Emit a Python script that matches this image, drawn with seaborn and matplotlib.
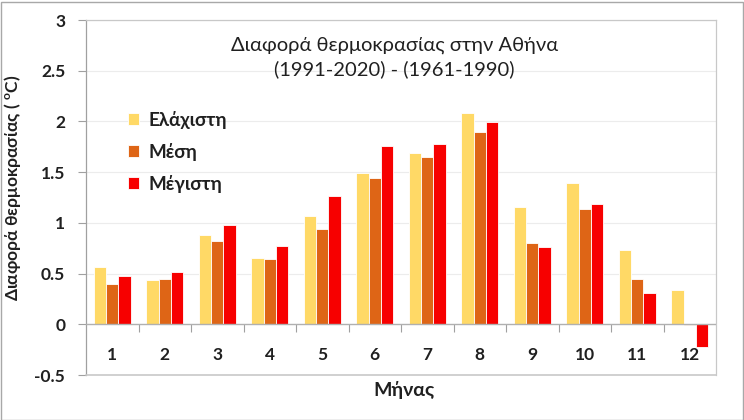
import matplotlib
matplotlib.use("Agg")
import matplotlib.pyplot as plt
import seaborn as sns
import pandas as pd
from matplotlib.patches import Rectangle

months = [str(m) for m in range(1, 13)]
series_names = ["Ελάχιστη", "Μέση", "Μέγιστη"]
t_min = [0.56, 0.44, 0.88, 0.65, 1.07, 1.49, 1.69, 2.08, 1.16, 1.39, 0.73, 0.34]
t_mean = [0.40, 0.45, 0.82, 0.64, 0.94, 1.44, 1.65, 1.90, 0.80, 1.14, 0.45, -0.01]
t_max = [0.48, 0.52, 0.98, 0.77, 1.26, 1.76, 1.78, 1.99, 0.76, 1.19, 0.31, -0.22]
y_ticks = [-0.5, 0, 0.5, 1, 1.5, 2, 2.5, 3]
y_tick_labels = ["-0.5", "0", "0.5", "1", "1.5", "2", "2.5", "3"]
colors = ["#FFD966", "#DE6516", "#F70000"]

df = pd.DataFrame({
    "month": months * 3,
    "series": [s for s in series_names for _ in months],
    "value": t_min + t_mean + t_max,
})

sns.set_theme(style="white")
plt.rcParams["font.family"] = ["Lato", "Open Sans", "DejaVu Sans"]
plt.rcParams["mathtext.fontset"] = "custom"
plt.rcParams["mathtext.rm"] = "Lato"

fig = plt.figure(figsize=(7.44, 4.2), dpi=100)
ax = fig.add_axes([86/744, 1 - 375/420, (716-86)/744, (375-20)/420])

sns.barplot(data=df, x="month", y="value", hue="series", order=months,
            hue_order=series_names, palette=colors, width=0.7,
            edgecolor="white", linewidth=0.6, ax=ax, saturation=1)

ax.set_ylim(-0.5, 3)
ax.set_xlim(-0.5, 11.5)
ax.set_yticks(y_ticks)
ax.set_yticklabels(y_tick_labels, fontsize=12.5, fontweight="bold", color="#202020")
ax.tick_params(axis="y", length=6, width=0.8, color="#a0a0a0", pad=9, left=True)

# gridlines
for yv in y_ticks[1:]:
    if yv != 0:
        ax.axhline(yv, color="#ececec", lw=0.8, zorder=0)
ax.axhline(0, color="#b0b0b0", lw=1.0, zorder=3)

# x ticks: boundaries as marks, labels at centers
ax.set_xticks([i + 0.5 for i in range(11)])
ax.set_xticklabels([])
ax.tick_params(axis="x", which="major", length=6, width=0.8, color="#a0a0a0",
               direction="out", bottom=True)
ax.spines["bottom"].set_position(("data", 0))
ax.spines["bottom"].set_visible(False)
ax.set_xticks(range(12), minor=True)
ax.set_xticklabels(months, minor=True, fontsize=12.5, fontweight="bold", color="#202020")
ax.tick_params(axis="x", which="minor", length=0, pad=16)

for side in ["top", "right", "left"]:
    ax.spines[side].set_color("#c8c8c8")
    ax.spines[side].set_linewidth(0.9)
ax.spines["left"].set_color("#a0a0a0")
ax.axhline(-0.5, color="#c8c8c8", lw=1.2, zorder=4, clip_on=False)

ax.set_xlabel("Μήνας", fontsize=14, fontweight="bold", color="#202020")
ax.xaxis.set_label_coords(0.505, -0.018)
ax.set_ylabel("Διαφορά θερμοκρασίας ( $^\\mathregular{o}$C)", fontsize=12.5,
              fontweight="bold", color="#202020")
ax.yaxis.set_label_coords(-0.1, 0.527)

ax.text(0.49, 0.895, "Διαφορά θερμοκρασίας στην Αθήνα\n(1991-2020) - (1961-1990)",
        transform=ax.transAxes, ha="center", va="center", fontsize=14.5,
        color="#202020", linespacing=1.45)

leg = ax.legend(loc="upper left", bbox_to_anchor=(0.066, 0.745), frameon=False,
                borderpad=0, borderaxespad=0,
                handlelength=0.6, handleheight=0.6, handletextpad=0.5,
                labelspacing=0.75, prop={"size": 13.5, "weight": "bold"})
for t in leg.get_texts():
    t.set_color("#202020")

fig.patches.append(Rectangle((0.5/744, 0.5/420), 1 - 2/744, 1 - 2/420,
                             transform=fig.transFigure, fill=False,
                             edgecolor="#a8a8a8", lw=1.0))

fig.savefig("out.png", dpi=100)
